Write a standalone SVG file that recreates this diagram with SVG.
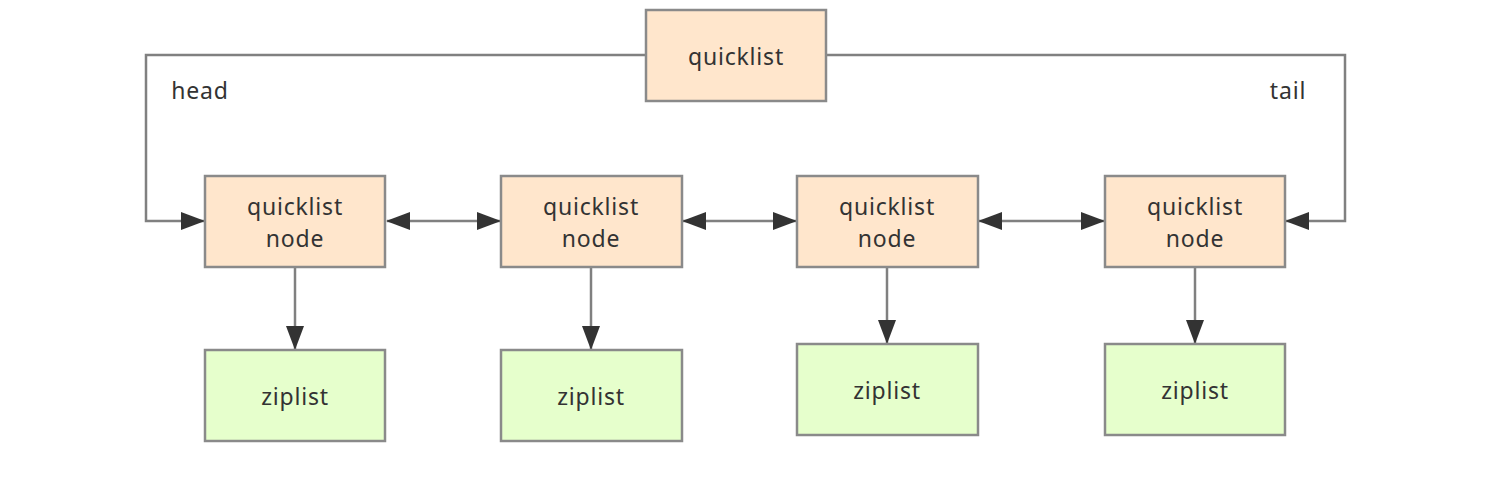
<svg xmlns="http://www.w3.org/2000/svg" width="1510" height="488" viewBox="0 0 1510 488">
<style>
.box{stroke:#8a8a8a;stroke-width:2.5}
.ql{fill:#ffe6cc}
.zl{fill:#e6ffcc}
.t{font-family:"Noto Sans","Liberation Sans",sans-serif;font-size:23px;fill:#333;text-anchor:middle;letter-spacing:0.8px}
.c{fill:none;stroke:#808080;stroke-width:2.5}
</style>
<defs>
<marker id="ah" markerUnits="userSpaceOnUse" viewBox="0 0 24 18" refX="23" refY="9" markerWidth="24" markerHeight="18" orient="auto-start-reverse">
<path d="M0,0 L24,9 L0,18 Z" fill="#333"/>
</marker>
</defs>
<rect width="1510" height="488" fill="#fff"/>
<g id="connectors">
<path class="c" d="M646,55 H146 V221 H204" marker-end="url(#ah)"/>
<path class="c" d="M826,55 H1345 V221 H1286" marker-end="url(#ah)"/>
<path class="c" d="M387,221 H500" marker-start="url(#ah)" marker-end="url(#ah)"/>
<path class="c" d="M683,221 H796" marker-start="url(#ah)" marker-end="url(#ah)"/>
<path class="c" d="M979,221 H1104" marker-start="url(#ah)" marker-end="url(#ah)"/>
<path class="c" d="M295,268 V349" marker-end="url(#ah)"/>
<path class="c" d="M591,268 V349" marker-end="url(#ah)"/>
<path class="c" d="M887,268 V343" marker-end="url(#ah)"/>
<path class="c" d="M1195,268 V343" marker-end="url(#ah)"/>
<text class="t" x="200" y="99">head</text>
<text class="t" x="1288" y="99">tail</text>
</g>
<g id="quicklist"><rect class="box ql" x="646" y="10" width="180" height="91"/><text class="t" x="736" y="65">quicklist</text></g>
<g id="node1"><rect class="box ql" x="205" y="176" width="180" height="91"/><text class="t" x="295" y="215">quicklist</text><text class="t" x="295" y="247">node</text></g>
<g id="node2"><rect class="box ql" x="501" y="176" width="181" height="91"/><text class="t" x="591" y="215">quicklist</text><text class="t" x="591" y="247">node</text></g>
<g id="node3"><rect class="box ql" x="797" y="176" width="181" height="91"/><text class="t" x="887" y="215">quicklist</text><text class="t" x="887" y="247">node</text></g>
<g id="node4"><rect class="box ql" x="1105" y="176" width="180" height="91"/><text class="t" x="1195" y="215">quicklist</text><text class="t" x="1195" y="247">node</text></g>
<g id="zip1"><rect class="box zl" x="205" y="350" width="180" height="91"/><text class="t" x="295" y="405">ziplist</text></g>
<g id="zip2"><rect class="box zl" x="501" y="350" width="181" height="91"/><text class="t" x="591" y="405">ziplist</text></g>
<g id="zip3"><rect class="box zl" x="797" y="344" width="181" height="91"/><text class="t" x="887" y="399">ziplist</text></g>
<g id="zip4"><rect class="box zl" x="1105" y="344" width="180" height="91"/><text class="t" x="1195" y="399">ziplist</text></g>
</svg>
